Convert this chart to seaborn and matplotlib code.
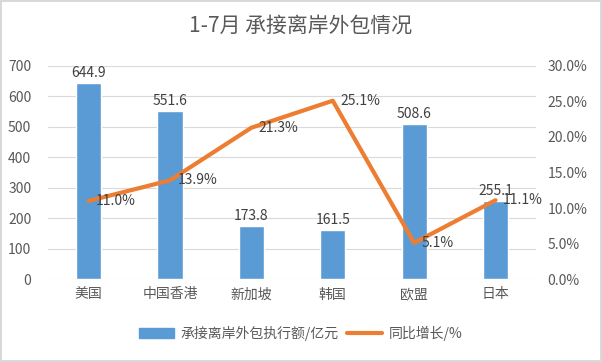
import matplotlib
matplotlib.use("Agg")
import matplotlib.pyplot as plt
import matplotlib.patches as mpatches
from matplotlib.lines import Line2D
from matplotlib.ticker import FuncFormatter, MultipleLocator
import pandas as pd
import seaborn as sns

title = "1-7月 承接离岸外包情况"
regions = ["美国", "中国香港", "新加坡", "韩国", "欧盟", "日本"]
amount = [644.9, 551.6, 173.8, 161.5, 508.6, 255.1]
growth = [11.0, 13.9, 21.3, 25.1, 5.1, 11.1]
bar_name = "承接离岸外包执行额/亿元"
line_name = "同比增长/%"

sns.set_theme(style="white")
plt.rcParams["font.family"] = ["Noto Sans CJK SC", "DejaVu Sans"]

BLUE = "#5B9BD5"
ORANGE = "#ED7D31"
GREY = "#595959"
GRID = "#D9D9D9"

df = pd.DataFrame({"region": regions, "amount": amount, "growth": growth})

fig = plt.figure(figsize=(6.02, 3.62), dpi=100)
fig.patch.set_edgecolor("#D9D9D9")
fig.patch.set_linewidth(1.5)
ax = fig.add_axes([0.0797, 0.229, 0.811, 0.589])

sns.barplot(data=df, x="region", y="amount", color=BLUE, width=0.31,
            saturation=1, ax=ax)
ax.set_ylim(0, 700)
ax.yaxis.set_major_locator(MultipleLocator(100))
ax.grid(axis="y", color=GRID, lw=0.8)
ax.set_axisbelow(True)
for s in ax.spines.values():
    s.set_visible(False)
ax.set_xlabel("")
ax.set_ylabel("")
ax.tick_params(axis="both", length=0, labelsize=10, labelcolor=GREY)
ax.tick_params(axis="y", pad=12)
ax.tick_params(axis="x", pad=6)
for i, v in enumerate(amount):
    ax.text(i, v + 10, f"{v:.1f}", ha="center", va="bottom", fontsize=10,
            color="#404040")

ax2 = ax.twinx()
sns.lineplot(x=list(range(len(regions))), y=growth, color=ORANGE, lw=3,
             ax=ax2)
ax2.set_ylim(0, 30)
ax2.yaxis.set_major_locator(MultipleLocator(5))
ax2.yaxis.set_major_formatter(FuncFormatter(lambda v, _: f"{v:.1f}%"))
for s in ax2.spines.values():
    s.set_visible(False)
ax2.tick_params(axis="y", length=0, labelsize=10, labelcolor=GREY, pad=8)
ax2.grid(False)
for i, v in enumerate(growth):
    ax2.text(i + 0.09, v, f"{v:.1f}%", ha="left", va="center", fontsize=10,
             color="#404040")
ax.set_xlim(-0.5, len(regions) - 0.5)

fig.text(0.5, 0.93, title, ha="center", va="center", fontsize=15,
         color=GREY)

handles = [mpatches.Patch(color=BLUE, label=bar_name),
           Line2D([0], [0], color=ORANGE, lw=3, label=line_name)]
fig.legend(handles=handles, loc="center", bbox_to_anchor=(0.5, 0.08),
           ncol=2, frameon=False, fontsize=10, labelcolor=GREY,
           handlelength=2.5, columnspacing=0.6, handletextpad=0.5)

fig.savefig("out.png", dpi=100, edgecolor=fig.get_edgecolor())
